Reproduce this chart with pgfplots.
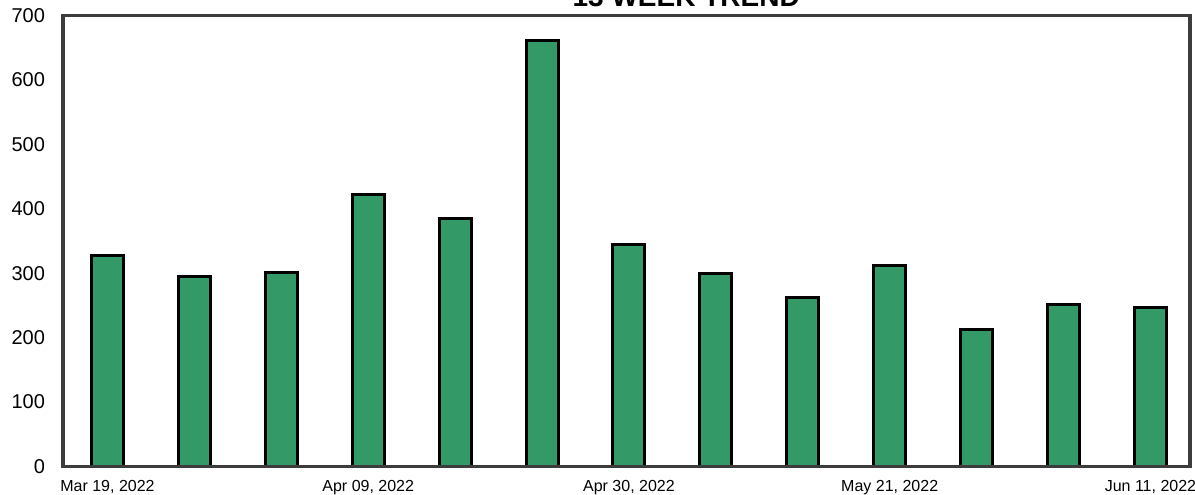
\documentclass[border=0pt]{standalone}
\usepackage{pgfplots}
\pgfplotsset{compat=1.18}
\usepackage{pgfplotstable}
\usepackage{fontspec}
\setmainfont{Liberation Sans}
\usetikzlibrary{calc}

\definecolor{barGreen}{RGB}{51,153,102}
\definecolor{frameGray}{RGB}{60,60,60}

% weekly totals, Mar 19 2022 .. Jun 11 2022
\pgfplotstableread{
week value
1  327
2  295
3  301
4  422
5  385
6  661
7  344
8  299
9  262
10 312
11 212
12 252
13 246
}\trenddata

\begin{document}
\begin{tikzpicture}
\begin{axis}[
  name=main,
  scale only axis,
  width=563.5pt, height=225.6pt,
  xmin=0.488, xmax=13.455,
  ymin=0, ymax=700,
  ytick={0,100,...,700},
  xtick={1,4,7,10,13},
  xticklabels={{Mar 19, 2022},{Apr 09, 2022},{Apr 30, 2022},{May 21, 2022},{Jun 11, 2022}},
  major tick length=0,
  axis on top,
  axis line style={draw=frameGray, line width=1.8pt},
  /pgf/number format/assume math mode=true,
  yticklabel style={font=\fontsize{10}{12}\selectfont, xshift=-5.5pt},
  xticklabel style={font=\fontsize{8}{10}\selectfont, yshift=-3.6pt},
  every axis title shift=0pt,
  title={13 WEEK TREND},
  title style={at={(0.553,1)}, anchor=base, yshift=4.4pt,
    font=\bfseries\fontsize{14}{16}\selectfont},
]
\addplot[ybar, bar width=16pt, fill=barGreen, draw=black, line width=1.5pt]
  table[x=week, y=value] {\trenddata};
\end{axis}
\pgfresetboundingbox
\path[use as bounding box] ($(main.south west)+(-31.5pt,-13.75pt)$) rectangle ++(597.5pt,247pt);
\end{tikzpicture}
\end{document}
